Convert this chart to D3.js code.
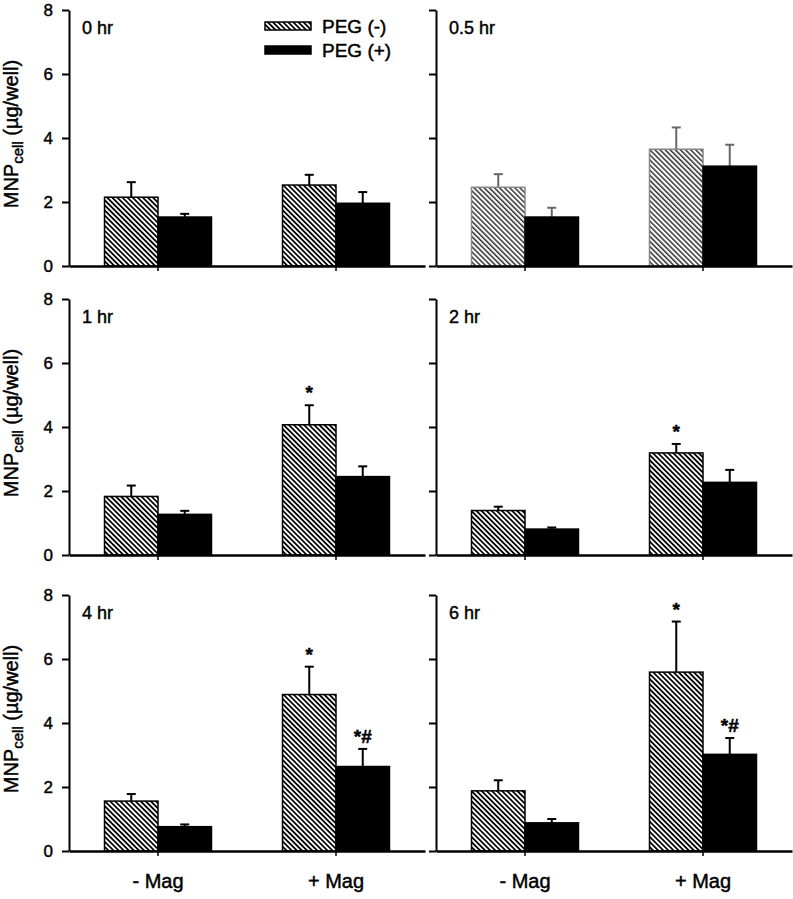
<!DOCTYPE html>
<html>
<head>
<meta charset="utf-8">
<script src="https://cdn.jsdelivr.net/npm/d3@7"></script>
<style>
  html, body { margin: 0; padding: 0; background: #fff; }
  svg { display: block; font-family: "Liberation Sans", Arial, sans-serif; }
  svg text { stroke: #000; stroke-width: 0.45px; fill: #000; }
</style>
</head>
<body>
<svg id="chart" width="793" height="899"></svg>
<script>
// ---- data ----
const panels = ["0 hr", "0.5 hr", "1 hr", "2 hr", "4 hr", "6 hr"];
const categories = ["- Mag", "+ Mag"];
const series = ["PEG (-)", "PEG (+)"];
const yTicks = [0, 2, 4, 6, 8];
// values per panel: [- Mag, + Mag]
const pegMinus    = [[2.15, 2.53], [2.46, 3.65], [1.83, 4.07], [1.39, 3.19], [1.56, 4.89], [1.88, 5.59]];
const pegMinusErr = [[0.47, 0.32], [0.41, 0.68], [0.34, 0.61], [0.12, 0.28], [0.22, 0.87], [0.33, 1.58]];
const pegPlus     = [[1.53, 1.96], [1.53, 3.12], [1.27, 2.45], [0.81, 2.27], [0.76, 2.64], [0.88, 3.02]];
const pegPlusErr  = [[0.10, 0.35], [0.29, 0.67], [0.11, 0.32], [0.05, 0.39], [0.07, 0.55], [0.12, 0.51]];
const annotations = [
  { panel: "1 hr", category: "+ Mag", series: "PEG (-)", text: "*" },
  { panel: "2 hr", category: "+ Mag", series: "PEG (-)", text: "*" },
  { panel: "4 hr", category: "+ Mag", series: "PEG (-)", text: "*" },
  { panel: "4 hr", category: "+ Mag", series: "PEG (+)", text: "*#" },
  { panel: "6 hr", category: "+ Mag", series: "PEG (-)", text: "*" },
  { panel: "6 hr", category: "+ Mag", series: "PEG (+)", text: "*#" }
];

// ---- layout ----
const svg = d3.select("#chart");
const colX = [[69, 425], [436, 792]];
const rowY = [[10, 266], [299, 555], [595, 851]];

const defs = svg.append("defs");
function hatch(id, color, w) {
  const p = defs.append("pattern")
    .attr("id", id).attr("patternUnits", "userSpaceOnUse")
    .attr("width", 3.6).attr("height", 3.6)
    .attr("patternTransform", "rotate(-45)");
  p.append("rect").attr("width", 3.6).attr("height", 3.6).attr("fill", "#fff");
  p.append("rect").attr("width", w).attr("height", 3.6).attr("fill", color);
}
hatch("hatch", "#000", 1.75);
hatch("hatchLight", "#333", 1.5);

panels.forEach((name, pi) => {
  const col = pi % 2, row = Math.floor(pi / 2);
  const light = name === "0.5 hr";
  const x0 = d3.scaleBand().domain(categories).range(colX[col]).paddingInner(0).paddingOuter(0);
  const x1 = d3.scaleBand().domain(series).range([0, x0.bandwidth()]).paddingInner(0).paddingOuter(0.664);
  const y = d3.scaleLinear().domain([0, 8]).range([rowY[row][1], rowY[row][0]]);
  const g = svg.append("g");

  const rows = [];
  categories.forEach((c, ci) => {
    rows.push({ cat: c, ser: series[0], v: pegMinus[pi][ci], e: pegMinusErr[pi][ci] });
    rows.push({ cat: c, ser: series[1], v: pegPlus[pi][ci], e: pegPlusErr[pi][ci] });
  });

  const errColor = light ? "#666" : "#000";
  rows.forEach(d => {
    const cx = x0(d.cat) + x1(d.ser) + x1.bandwidth() / 2;
    g.append("line").attr("x1", cx).attr("x2", cx)
      .attr("y1", y(d.v)).attr("y2", y(d.v + d.e))
      .attr("stroke", errColor).attr("stroke-width", 2);
    g.append("line").attr("x1", cx - 4.5).attr("x2", cx + 4.5)
      .attr("y1", y(d.v + d.e)).attr("y2", y(d.v + d.e))
      .attr("stroke", errColor).attr("stroke-width", 2);
  });
  g.selectAll("rect.bar").data(rows).join("rect")
    .attr("class", "bar")
    .attr("x", d => x0(d.cat) + x1(d.ser))
    .attr("width", x1.bandwidth())
    .attr("y", d => y(d.v))
    .attr("height", d => y(0) - y(d.v))
    .attr("fill", d => d.ser === series[0] ? (light ? "url(#hatchLight)" : "url(#hatch)") : "#000")
    .attr("stroke", d => d.ser === series[0] && light ? "#888" : "#000")
    .attr("stroke-width", 1.5);

  annotations.filter(a => a.panel === name).forEach(a => {
    const ci = categories.indexOf(a.category);
    const top = a.series === series[0] ? pegMinus[pi][ci] + pegMinusErr[pi][ci] : pegPlus[pi][ci] + pegPlusErr[pi][ci];
    const cx = x0(a.category) + x1(a.series) + x1.bandwidth() / 2;
    g.append("text").attr("x", cx).attr("y", y(top) - 6)
      .attr("text-anchor", "middle").attr("font-size", 19).attr("font-weight", "bold")
      .text(a.text);
  });

  const ya = d3.axisLeft(y).tickValues(yTicks).tickSize(7).tickSizeOuter(0).tickPadding(9);
  if (col === 1) ya.tickFormat("");
  const yg = g.append("g").attr("transform", `translate(${colX[col][0]},0)`).call(ya);
  yg.selectAll("path,line").attr("stroke", "#000").attr("stroke-width", 2);
  yg.selectAll("text").attr("font-size", 17).attr("font-family", "Liberation Sans, Arial, sans-serif");

  const xa = d3.axisBottom(x0).tickSize(5).tickSizeOuter(0).tickPadding(18);
  if (row !== 2) xa.tickFormat("");
  const xg = g.append("g").attr("transform", `translate(0,${y(0)})`).call(xa);
  xg.selectAll("path").attr("stroke", "#000").attr("stroke-width", 2.5);
  xg.selectAll("line").attr("stroke", "#000").attr("stroke-width", 1.5);
  xg.selectAll("text").attr("font-size", 20).attr("font-family", "Liberation Sans, Arial, sans-serif");

  g.append("text").attr("x", colX[col][0] + 13).attr("y", rowY[row][0] + 24)
    .attr("font-size", 18).text(name);

  if (col === 0) {
    const cy = (rowY[row][0] + rowY[row][1]) / 2 - 4;
    const t = g.append("text").attr("transform", `translate(18,${cy}) rotate(-90)`)
      .attr("text-anchor", "middle").attr("font-size", 20);
    t.append("tspan").text("MNP");
    t.append("tspan").attr("font-size", 15).attr("dy", 5).text("cell");
    t.append("tspan").attr("dy", -5).text(" (\u00b5g/well)");
  }
});

const lg = svg.append("g");
series.forEach((s, i) => {
  const yy = [22, 46][i];
  lg.append("rect").attr("x", 265).attr("y", yy).attr("width", 46).attr("height", 8)
    .attr("fill", i === 0 ? "url(#hatch)" : "#000").attr("stroke", "#000").attr("stroke-width", 1.5);
  lg.append("text").attr("x", 322).attr("y", yy + 4).attr("dy", "0.35em")
    .attr("font-size", 19).text(s);
});
</script>
</body>
</html>
